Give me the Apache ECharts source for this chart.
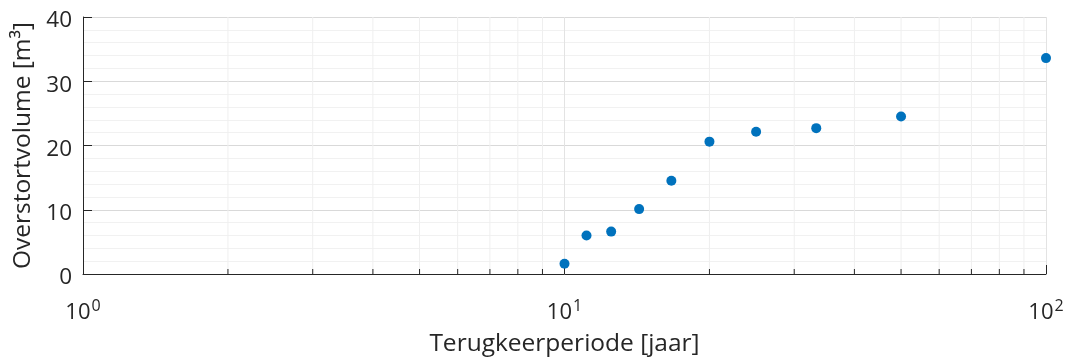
<!DOCTYPE html>
<html>
<head>
<meta charset="utf-8">
<script src="https://cdn.jsdelivr.net/npm/echarts@6/dist/echarts.min.js"></script>
<style>html,body{margin:0;padding:0;background:#fff;}#c{width:1067px;height:362px;}</style>
</head>
<body>
<div id="c"></div>
<script>
// Data
var returnPeriods = [10, 11.11, 12.5, 14.29, 16.67, 20, 25, 33.33, 50, 100];
var overflowVolumes = [1.6, 6.0, 6.6, 10.1, 14.5, 20.6, 22.15, 22.7, 24.5, 33.6];
var minorXTicks = [2, 3, 4, 5, 6, 7, 8, 9, 20, 30, 40, 50, 60, 70, 80, 90];
var xAxisTitle = 'Terugkeerperiode [jaar]';
var yAxisTitle = 'Overstortvolume [m\u00B3]';

var FONT = 'Open Sans';
var TXT = '#262626';

var points = returnPeriods.map(function (x, i) { return [x, overflowVolumes[i]]; });
var minorData = minorXTicks.map(function (x) { return [x]; });

var chart = echarts.init(document.getElementById('c'));
chart.setOption({
  animation: false,
  backgroundColor: '#fff',
  grid: { left: 83, right: 21, top: 17, bottom: 86 },
  xAxis: {
    type: 'log', logBase: 10, min: 1, max: 100, splitNumber: 2,
    name: xAxisTitle, nameLocation: 'middle', nameGap: 58,
    nameTextStyle: { color: TXT, fontSize: 24.5, fontFamily: FONT },
    axisLine: { show: true, lineStyle: { color: TXT, width: 1 } },
    axisTick: { show: true, inside: true, length: 9, lineStyle: { color: TXT } },
    splitLine: { show: true, lineStyle: { color: '#e3e3e3', width: 1 } },
    axisLabel: {
      margin: 24, color: TXT, fontFamily: FONT,
      formatter: function (v) { return '{b|10}{s|' + Math.round(Math.log10(v)) + '}'; },
      rich: {
        b: { fontSize: 22, fontFamily: FONT, color: TXT, verticalAlign: 'bottom' },
        s: { fontSize: 16, fontFamily: FONT, color: TXT, verticalAlign: 'bottom', padding: [0, 0, 10, 1] }
      }
    }
  },
  yAxis: {
    type: 'value', min: 0, max: 40, interval: 10,
    name: yAxisTitle, nameLocation: 'middle', nameGap: 45,
    nameTextStyle: { color: TXT, fontSize: 24.5, fontFamily: FONT },
    axisLine: { show: true, lineStyle: { color: TXT, width: 1 } },
    axisTick: { show: true, inside: true, length: 9, lineStyle: { color: TXT } },
    minorTick: { show: true, splitNumber: 5, length: 0 },
    splitLine: { show: true, lineStyle: { color: '#d9d9d9', width: 1 } },
    minorSplitLine: { show: true, lineStyle: { color: '#f1f1f1', width: 1 } },
    axisLabel: {
      margin: 11, color: TXT, fontFamily: FONT,
      formatter: function (v) { return '{a|' + v + '}'; },
      rich: { a: { fontSize: 22.5, fontFamily: FONT, color: TXT, padding: [8, 0, 0, 0] } }
    }
  },
  series: [
    {
      type: 'custom',
      z: 1,
      silent: true,
      data: minorData,
      encode: { x: 0 },
      renderItem: function (params, api) {
        var x = api.value(0);
        var bottom = api.coord([x, 0]);
        var top = api.coord([x, 40]);
        return {
          type: 'group',
          children: [
            { type: 'line', shape: { x1: bottom[0], y1: bottom[1], x2: top[0], y2: top[1] },
              style: { stroke: '#efefef', lineWidth: 1 } },
            { type: 'line', shape: { x1: bottom[0], y1: bottom[1], x2: bottom[0], y2: bottom[1] - 5 },
              style: { stroke: TXT, lineWidth: 1 } }
          ]
        };
      }
    },
    {
      type: 'scatter',
      z: 5,
      symbol: 'circle',
      symbolSize: 10,
      itemStyle: { color: '#0072BD', opacity: 1 },
      data: points
    }
  ]
});
</script>
</body>
</html>
